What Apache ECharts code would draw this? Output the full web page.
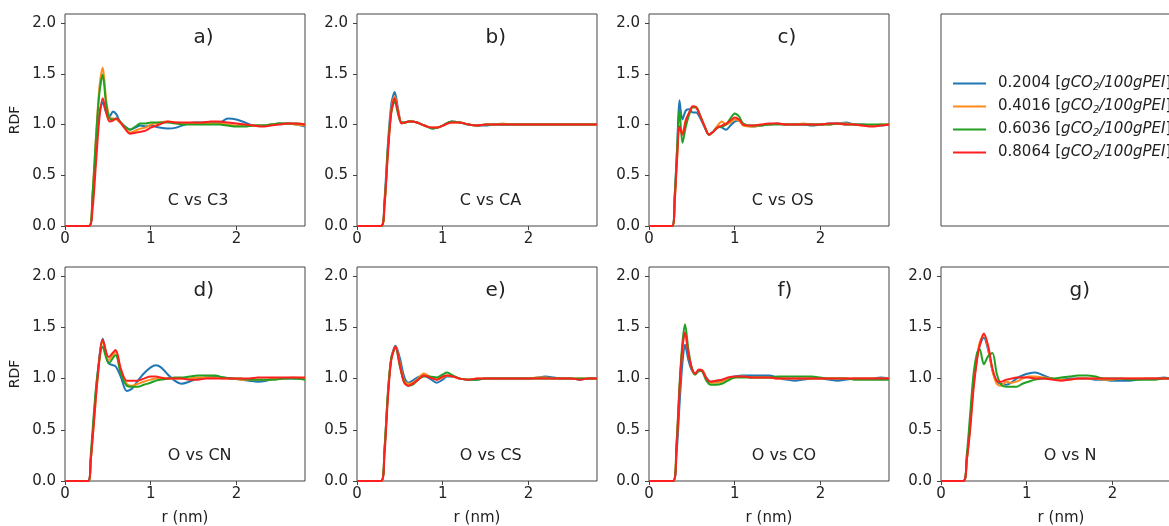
<!DOCTYPE html>
<html>
<head>
<meta charset="utf-8">
<script src="https://cdn.jsdelivr.net/npm/echarts@6/dist/echarts.min.js"></script>
<style>
  html, body { margin: 0; padding: 0; background: #fff; }
  #chart { width: 1169px; height: 526px; }
</style>
</head>
<body>
<div id="chart"></div>
<script>
// CO2 loadings (legend), line colours
const loadings = ['0.2004', '0.4016', '0.6036', '0.8064'];
const colors = ['#1f77b4', '#ff8c1a', '#22a022', '#ff1f1f'];
const xTicks = [0, 1, 2];
const yTicks = [0, 0.5, 1, 1.5, 2];

// a) C vs C3   and   b) C vs CA  (same r grid)
const rA = [0, 0.28, 0.32, 0.36, 0.40, 0.44, 0.48, 0.52, 0.56, 0.60, 0.64, 0.70, 0.76, 0.82, 0.88, 0.94, 1.0, 1.1, 1.2, 1.3, 1.4, 1.5, 1.6, 1.7, 1.8, 1.9, 2.0, 2.1, 2.2, 2.3, 2.4, 2.5, 2.6, 2.7, 2.8];
const blueA   = [0, 0, 0.25, 0.75, 1.1, 1.22, 1.12, 1.08, 1.13, 1.10, 1.03, 0.98, 0.95, 0.97, 0.99, 0.98, 0.99, 0.97, 0.96, 0.97, 1.0, 1.02, 1.02, 1.02, 1.02, 1.06, 1.05, 1.02, 0.99, 0.99, 1.0, 1.01, 1.01, 1.0, 0.98];
const orangeA = [0, 0, 0.3, 0.85, 1.35, 1.56, 1.25, 1.07, 1.06, 1.05, 1.02, 0.97, 0.92, 0.94, 0.96, 0.97, 1.0, 1.02, 1.03, 1.02, 1.01, 1.01, 1.01, 1.01, 1.01, 1.0, 0.99, 0.99, 0.99, 0.99, 1.0, 1.01, 1.01, 1.0, 0.99];
const greenA  = [0, 0, 0.3, 0.85, 1.3, 1.49, 1.2, 1.06, 1.05, 1.06, 1.03, 0.98, 0.95, 0.98, 1.01, 1.01, 1.02, 1.02, 1.02, 1.01, 1.0, 1.0, 1.0, 1.0, 1.0, 0.99, 0.98, 0.98, 0.99, 0.99, 1.0, 1.01, 1.01, 1.01, 1.0];
const redA    = [0, 0, 0.15, 0.6, 1.05, 1.26, 1.12, 1.03, 1.04, 1.06, 1.03, 0.96, 0.91, 0.92, 0.93, 0.94, 0.97, 1.0, 1.03, 1.02, 1.02, 1.02, 1.02, 1.03, 1.03, 1.02, 1.01, 1.0, 0.99, 0.98, 0.99, 1.0, 1.01, 1.01, 1.0];

const blueB   = [0, 0, 0.25, 0.8, 1.2, 1.32, 1.15, 1.02, 1.02, 1.03, 1.03, 1.02, 1.0, 0.98, 0.96, 0.97, 0.99, 1.03, 1.02, 1.0, 0.99, 0.99, 1.0, 1.0, 1.0, 1.0, 1.0, 1.0, 1.0, 1.0, 1.0, 1.0, 1.0, 1.0, 1.0];
const orangeB = [0, 0, 0.2, 0.75, 1.15, 1.28, 1.13, 1.02, 1.02, 1.03, 1.03, 1.02, 1.0, 0.98, 0.97, 0.97, 0.99, 1.02, 1.02, 1.0, 0.99, 1.0, 1.0, 1.01, 1.0, 1.0, 1.0, 1.0, 1.0, 1.0, 1.0, 1.0, 1.0, 1.0, 1.0];
const greenB  = [0, 0, 0.2, 0.75, 1.12, 1.23, 1.1, 1.02, 1.02, 1.03, 1.03, 1.02, 1.0, 0.98, 0.96, 0.97, 0.99, 1.03, 1.02, 1.0, 0.99, 1.0, 1.0, 1.0, 1.0, 1.0, 1.0, 1.0, 1.0, 1.0, 1.0, 1.0, 1.0, 1.0, 1.0];
const redB    = [0, 0, 0.2, 0.7, 1.12, 1.26, 1.12, 1.01, 1.02, 1.03, 1.03, 1.02, 1.0, 0.98, 0.97, 0.97, 0.99, 1.02, 1.02, 1.0, 0.99, 1.0, 1.0, 1.0, 1.0, 1.0, 1.0, 1.0, 1.0, 1.0, 1.0, 1.0, 1.0, 1.0, 1.0];

// c) C vs OS
const rC = [0, 0.27, 0.30, 0.33, 0.355, 0.39, 0.43, 0.47, 0.51, 0.55, 0.60, 0.65, 0.70, 0.75, 0.80, 0.85, 0.90, 0.95, 1.0, 1.05, 1.1, 1.2, 1.3, 1.4, 1.5, 1.6, 1.7, 1.8, 1.9, 2.0, 2.1, 2.2, 2.3, 2.4, 2.5, 2.6, 2.7, 2.8];
const blueC   = [0, 0, 0.3, 0.8, 1.24, 1.05, 1.14, 1.15, 1.12, 1.12, 1.06, 0.97, 0.9, 0.93, 0.98, 0.97, 0.95, 0.99, 1.03, 1.04, 1.0, 0.98, 0.99, 1.0, 1.01, 1.0, 1.0, 1.0, 0.99, 1.0, 1.01, 1.01, 1.02, 1.0, 1.0, 0.99, 0.99, 1.0];
const orangeC = [0, 0, 0.25, 0.7, 0.98, 0.92, 1.05, 1.12, 1.17, 1.17, 1.08, 0.98, 0.9, 0.93, 0.99, 1.03, 1.0, 1.02, 1.05, 1.04, 0.99, 0.98, 0.99, 1.0, 1.01, 1.0, 1.0, 1.01, 1.0, 1.0, 1.0, 1.01, 1.01, 1.0, 0.99, 0.99, 1.0, 1.0];
const greenC  = [0, 0, 0.3, 0.8, 1.15, 0.82, 0.98, 1.1, 1.17, 1.17, 1.08, 0.98, 0.9, 0.93, 0.97, 0.98, 1.0, 1.06, 1.11, 1.08, 1.01, 0.99, 0.99, 1.0, 1.0, 1.0, 1.0, 1.0, 1.0, 1.0, 1.0, 1.01, 1.0, 1.0, 1.0, 1.0, 1.0, 1.0];
const redC    = [0, 0, 0.25, 0.7, 0.98, 0.9, 1.04, 1.12, 1.18, 1.17, 1.08, 0.98, 0.9, 0.93, 0.97, 0.99, 1.01, 1.04, 1.07, 1.05, 1.0, 0.99, 1.0, 1.01, 1.01, 1.0, 1.0, 1.0, 1.0, 1.0, 1.01, 1.01, 1.0, 1.0, 0.99, 0.98, 0.99, 1.0];

// d) O vs CN
const rD = [0, 0.27, 0.30, 0.34, 0.38, 0.44, 0.51, 0.59, 0.65, 0.72, 0.78, 0.85, 0.92, 1.0, 1.06, 1.12, 1.2, 1.28, 1.36, 1.45, 1.55, 1.65, 1.75, 1.85, 1.95, 2.05, 2.15, 2.25, 2.35, 2.45, 2.55, 2.65, 2.8];
const blueD   = [0, 0, 0.2, 0.65, 1.05, 1.39, 1.15, 1.12, 1.02, 0.88, 0.9, 0.98, 1.05, 1.11, 1.13, 1.11, 1.04, 0.98, 0.95, 0.97, 1.0, 1.01, 1.02, 1.01, 1.0, 0.99, 0.98, 0.97, 0.98, 1.0, 1.0, 1.0, 1.0];
const orangeD = [0, 0, 0.2, 0.6, 1.0, 1.36, 1.18, 1.26, 1.08, 0.95, 0.93, 0.95, 0.97, 0.99, 1.0, 1.0, 1.0, 1.0, 1.0, 1.0, 1.01, 1.01, 1.01, 1.0, 1.0, 0.99, 0.99, 0.99, 0.99, 1.0, 1.0, 1.01, 1.0];
const greenD  = [0, 0, 0.25, 0.7, 1.05, 1.31, 1.15, 1.23, 1.05, 0.93, 0.92, 0.92, 0.94, 0.96, 0.98, 0.99, 1.0, 1.01, 1.01, 1.02, 1.03, 1.03, 1.03, 1.01, 1.0, 1.0, 0.99, 0.99, 0.99, 0.99, 1.0, 1.0, 0.99];
const redD    = [0, 0, 0.2, 0.6, 1.0, 1.38, 1.21, 1.28, 1.1, 0.98, 0.98, 0.98, 1.0, 1.02, 1.02, 1.01, 1.0, 1.0, 1.0, 0.99, 0.99, 1.0, 1.0, 1.0, 1.0, 1.0, 1.0, 1.01, 1.01, 1.01, 1.01, 1.01, 1.01];

// e) O vs CS
const rE = [0, 0.28, 0.32, 0.36, 0.40, 0.45, 0.50, 0.55, 0.60, 0.65, 0.70, 0.78, 0.85, 0.93, 1.0, 1.05, 1.12, 1.2, 1.3, 1.4, 1.5, 1.6, 1.7, 1.8, 1.9, 2.0, 2.1, 2.2, 2.3, 2.4, 2.5, 2.6, 2.7, 2.8];
const blueE   = [0, 0, 0.3, 0.85, 1.2, 1.32, 1.2, 1.02, 0.96, 0.98, 1.01, 1.03, 1.0, 0.96, 0.99, 1.02, 1.02, 1.0, 0.99, 0.99, 1.0, 1.0, 1.0, 1.0, 1.0, 1.0, 1.01, 1.02, 1.01, 1.0, 1.0, 0.99, 1.0, 1.0];
const orangeE = [0, 0, 0.3, 0.85, 1.2, 1.31, 1.15, 0.98, 0.95, 0.96, 0.99, 1.05, 1.02, 0.99, 1.01, 1.03, 1.02, 1.0, 0.99, 1.0, 1.0, 1.0, 1.0, 1.0, 1.0, 1.0, 1.01, 1.01, 1.0, 1.0, 1.0, 1.0, 1.0, 1.0];
const greenE  = [0, 0, 0.3, 0.85, 1.2, 1.3, 1.12, 0.97, 0.93, 0.94, 0.98, 1.02, 1.02, 1.01, 1.04, 1.06, 1.03, 1.0, 0.99, 0.99, 1.0, 1.0, 1.0, 1.0, 1.0, 1.0, 1.0, 1.0, 1.0, 1.0, 1.0, 1.0, 1.0, 1.0];
const redE    = [0, 0, 0.25, 0.8, 1.18, 1.31, 1.13, 0.96, 0.93, 0.95, 0.98, 1.03, 1.01, 0.99, 1.02, 1.03, 1.02, 1.0, 0.99, 1.0, 1.0, 1.0, 1.0, 1.0, 1.0, 1.0, 1.0, 1.0, 1.0, 1.0, 1.0, 0.99, 1.0, 1.0];

// f) O vs CO
const rF = [0, 0.28, 0.32, 0.36, 0.39, 0.42, 0.46, 0.50, 0.54, 0.58, 0.62, 0.67, 0.72, 0.78, 0.85, 0.92, 1.0, 1.1, 1.2, 1.3, 1.4, 1.5, 1.6, 1.7, 1.8, 1.9, 2.0, 2.1, 2.2, 2.3, 2.4, 2.5, 2.6, 2.7, 2.8];
const blueF   = [0, 0, 0.25, 0.8, 1.15, 1.33, 1.18, 1.08, 1.05, 1.07, 1.08, 1.01, 0.97, 0.97, 0.98, 1.0, 1.02, 1.03, 1.03, 1.03, 1.03, 1.01, 0.99, 0.98, 0.99, 1.0, 1.0, 0.99, 0.98, 0.99, 1.0, 1.0, 1.0, 1.01, 1.0];
const orangeF = [0, 0, 0.35, 0.95, 1.3, 1.45, 1.25, 1.1, 1.04, 1.08, 1.08, 1.0, 0.96, 0.96, 0.97, 0.99, 1.01, 1.02, 1.01, 1.01, 1.01, 1.0, 1.0, 1.0, 1.0, 1.0, 1.0, 1.0, 1.0, 1.0, 1.0, 1.0, 1.0, 1.0, 1.0];
const greenF  = [0, 0, 0.35, 1.0, 1.35, 1.53, 1.28, 1.1, 1.04, 1.08, 1.07, 0.98, 0.94, 0.94, 0.95, 0.98, 1.01, 1.01, 1.01, 1.01, 1.01, 1.02, 1.02, 1.02, 1.02, 1.02, 1.01, 1.0, 1.0, 1.0, 0.99, 0.99, 0.99, 0.99, 0.99];
const redF    = [0, 0, 0.3, 0.95, 1.3, 1.45, 1.24, 1.1, 1.05, 1.09, 1.08, 1.0, 0.97, 0.98, 0.99, 1.01, 1.02, 1.02, 1.01, 1.01, 1.01, 1.0, 1.0, 1.0, 1.0, 1.0, 1.0, 1.0, 1.0, 1.0, 1.0, 1.0, 1.0, 1.0, 1.0];

// g) O vs N
const rG = [0, 0.26, 0.30, 0.34, 0.38, 0.42, 0.45, 0.50, 0.55, 0.60, 0.65, 0.70, 0.76, 0.82, 0.88, 0.95, 1.02, 1.1, 1.2, 1.3, 1.4, 1.5, 1.6, 1.7, 1.8, 1.9, 2.0, 2.1, 2.2, 2.3, 2.4, 2.5, 2.6, 2.7, 2.8];
const blueG   = [0, 0, 0.2, 0.55, 0.95, 1.2, 1.32, 1.40, 1.28, 1.08, 0.97, 0.95, 0.94, 0.96, 1.0, 1.03, 1.05, 1.06, 1.03, 1.0, 0.99, 1.0, 1.0, 1.0, 0.99, 0.99, 0.98, 0.98, 0.98, 0.99, 1.0, 1.0, 1.01, 1.0, 1.0];
const orangeG = [0, 0, 0.2, 0.55, 0.95, 1.2, 1.35, 1.43, 1.3, 1.08, 0.95, 0.93, 0.97, 0.96, 0.97, 1.0, 1.02, 1.02, 1.01, 1.0, 0.99, 0.99, 1.0, 1.0, 1.0, 0.99, 0.99, 1.0, 1.0, 1.0, 1.0, 1.0, 1.0, 1.0, 1.0];
const greenG  = [0, 0, 0.25, 0.65, 1.05, 1.25, 1.29, 1.14, 1.22, 1.25, 1.05, 0.94, 0.92, 0.92, 0.92, 0.95, 0.97, 0.99, 1.0, 1.0, 1.01, 1.02, 1.03, 1.03, 1.02, 1.0, 1.0, 1.0, 0.99, 0.99, 0.99, 0.99, 1.0, 1.0, 0.99];
const redG    = [0, 0, 0.2, 0.5, 0.9, 1.18, 1.32, 1.44, 1.32, 1.1, 0.98, 0.97, 0.99, 1.0, 1.01, 1.01, 1.01, 1.0, 1.0, 0.99, 0.98, 0.99, 1.0, 1.0, 1.0, 1.0, 1.0, 1.0, 1.0, 1.0, 1.0, 1.0, 1.0, 1.0, 1.0];

const panels = [
    {tag: 'a)', pair: 'C vs C3', row: 0, col: 0, r: rA, ys: [blueA, orangeA, greenA, redA]},
    {tag: 'b)', pair: 'C vs CA', row: 0, col: 1, r: rA, ys: [blueB, orangeB, greenB, redB]},
    {tag: 'c)', pair: 'C vs OS', row: 0, col: 2, r: rC, ys: [blueC, orangeC, greenC, redC]},
    {tag: 'd)', pair: 'O vs CN', row: 1, col: 0, r: rD, ys: [blueD, orangeD, greenD, redD]},
    {tag: 'e)', pair: 'O vs CS', row: 1, col: 1, r: rE, ys: [blueE, orangeE, greenE, redE]},
    {tag: 'f)', pair: 'O vs CO', row: 1, col: 2, r: rF, ys: [blueF, orangeF, greenF, redF]},
    {tag: 'g)', pair: 'O vs N', row: 1, col: 3, r: rG, ys: [blueG, orangeG, greenG, redG]}
];

const colLeft = [65, 357, 649, 941];
const rowTop = [14, 267];
const rowHeight = [212, 214];
const font = 'DejaVu Sans';
const ink = '#222';
const frame = '#444';

var chart = echarts.init(document.getElementById('chart'), null, {renderer: 'canvas'});

var option = {
    animation: false,
    backgroundColor: '#fff',
    grid: [],
    xAxis: [],
    yAxis: [],
    series: [],
    legend: {
        orient: 'vertical',
        left: 952,
        top: 76,
        padding: 0,
        itemGap: 7,
        itemWidth: 33,
        itemHeight: 14,
        selectedMode: false,
        data: loadings,
        // hide the circle ECharts puts on line-series legend icons
        itemStyle: {opacity: 0, color: 'rgba(0,0,0,0)', borderWidth: 0},
        formatter: name => name + ' [{i|gCO}{s|2}{i|/100gPEI}]',
        textStyle: {
            fontFamily: font, fontSize: 15, color: ink, padding: [0, 0, 0, 7],
            rich: {
                i: {fontFamily: font, fontSize: 15, fontStyle: 'italic', color: ink},
                s: {fontFamily: font, fontSize: 10, fontStyle: 'italic', color: ink, padding: [7, 0, 0, 0]}
            }
        }
    }
};

panels.forEach((p, i) => {
    option.grid.push({
        left: colLeft[p.col], top: rowTop[p.row], width: 240, height: rowHeight[p.row],
        show: true, borderColor: frame, borderWidth: 1, backgroundColor: 'transparent',
        outerBoundsMode: 'none'
    });
    option.xAxis.push({
        type: 'value', gridIndex: i, min: 0, max: 2.8,
        name: p.row === 1 ? 'r (nm)' : '',
        nameLocation: 'middle', nameGap: 30,
        nameTextStyle: {fontFamily: font, fontSize: 15, color: ink},
        axisLine: {show: false},
        axisTick: {show: true, inside: false, length: 4, lineStyle: {color: frame}, customValues: xTicks},
        axisLabel: {fontFamily: font, fontSize: 15, color: ink, margin: 6, customValues: xTicks},
        splitLine: {show: false}
    });
    option.yAxis.push({
        type: 'value', gridIndex: i, min: 0, max: 2.09,
        name: p.col === 0 ? 'RDF' : '',
        nameLocation: 'middle', nameGap: 43, nameRotate: 90,
        nameTextStyle: {fontFamily: font, fontSize: 14, color: ink},
        axisLine: {show: false},
        axisTick: {show: true, inside: false, length: 4, lineStyle: {color: frame}, customValues: yTicks},
        axisLabel: {fontFamily: font, fontSize: 15, color: ink, margin: 9, customValues: yTicks,
            formatter: v => v.toFixed(1)},
        splitLine: {show: false}
    });
    p.ys.forEach((ys, k) => {
        option.series.push({
            type: 'line', name: loadings[k], xAxisIndex: i, yAxisIndex: i,
            data: p.r.map((r, j) => [r, ys[j]]),
            symbol: 'none', smooth: 0.3, clip: true,
            lineStyle: {width: 2, color: colors[k]},
            itemStyle: {color: colors[k]}
        });
    });
});

// empty framed box holding the legend (top right)
option.grid.push({left: colLeft[3], top: rowTop[0], width: 240, height: rowHeight[0],
    show: true, borderColor: frame, borderWidth: 1, outerBoundsMode: 'none'});
option.xAxis.push({type: 'value', gridIndex: 7, show: false});
option.yAxis.push({type: 'value', gridIndex: 7, show: false});

chart.setOption(option);

// panel tags and pair names, placed in data coordinates
const graphics = [];
panels.forEach((p, i) => {
    const t = chart.convertToPixel({gridIndex: i}, [1.5, 1.86]);
    const n = chart.convertToPixel({gridIndex: i}, [1.2, 0.25]);
    graphics.push({type: 'text', x: t[0], y: t[1], style: {text: p.tag, fontFamily: font, fontSize: 20, fill: ink, align: 'left', verticalAlign: 'middle'}});
    graphics.push({type: 'text', x: n[0], y: n[1], style: {text: p.pair, fontFamily: font, fontSize: 16, fill: ink, align: 'left', verticalAlign: 'middle'}});
});
chart.setOption({graphic: graphics});
</script>
</body>
</html>
